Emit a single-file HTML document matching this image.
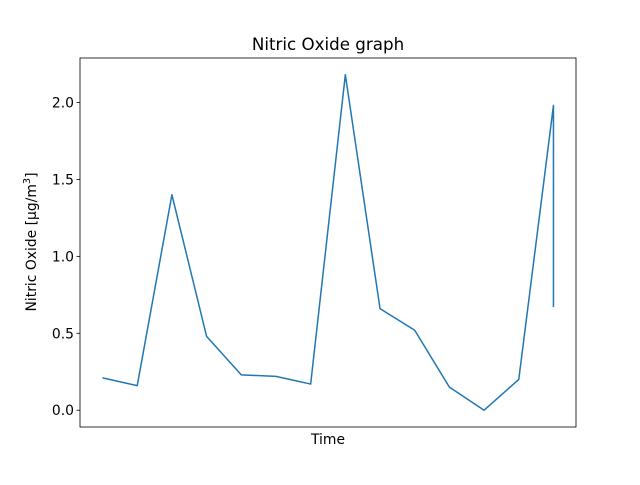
<!DOCTYPE html>
<html><head><meta charset="utf-8"><style>
body{margin:0;background:#fff;}
svg text{font-family:"DejaVu Sans","Liberation Sans",sans-serif;fill:#000;}
</style></head><body>
<svg id="chart" width="640" height="480" xmlns="http://www.w3.org/2000/svg">
<rect width="640" height="480" fill="#fff"/>
<text x="328" y="50" font-size="16.7" text-anchor="middle">Nitric Oxide graph</text>
<text x="328" y="444" font-size="13.9" text-anchor="middle">Time</text>
<text transform="translate(36,242) rotate(-90)" font-size="13.9" text-anchor="middle">Nitric Oxide [μg/m<tspan dy="-6" font-size="9.7">3</tspan><tspan dy="6">]</tspan></text>
<g id="yticks"></g>
<path id="line" fill="none" stroke="#1f77b4" stroke-width="1.5" stroke-linejoin="round"/>
<rect x="80" y="58" width="496" height="369" fill="none" stroke="#000" stroke-width="0.8"/>
</svg>
<script>
const xIndex=[0,1,2,3,4,5,6,7,8,9,10,11,12,13,13];
const values=[0.21,0.16,1.40,0.48,0.23,0.22,0.17,2.18,0.66,0.52,0.15,0.0,0.20,1.98,0.67];
const yTicks=[0.0,0.5,1.0,1.5,2.0];
const yTickLabels=["0.0","0.5","1.0","1.5","2.0"];
const L=80,R=576,T=58,B=427;
const xmin=-0.65,xmax=13.65;
const dmin=Math.min(...values),dmax=Math.max(...values),pad=(dmax-dmin)*0.05;
const ymin=dmin-pad,ymax=dmax+pad;
const xs=v=>L+(v-xmin)/(xmax-xmin)*(R-L);
const ys=v=>B-(v-ymin)/(ymax-ymin)*(B-T);
const ns="http://www.w3.org/2000/svg";
const line=document.getElementById('line');
line.setAttribute('d',values.map((v,i)=>(i?'L':'M')+xs(xIndex[i]).toFixed(2)+','+ys(v).toFixed(2)).join(''));
const g=document.getElementById('yticks');
yTicks.forEach((t,i)=>{
 const y=ys(t);
 const l=document.createElementNS(ns,'line');
 l.setAttribute('x1',L-3.5);l.setAttribute('x2',L);l.setAttribute('y1',y);l.setAttribute('y2',y);
 l.setAttribute('stroke','#000');l.setAttribute('stroke-width','0.8');
 
 
 g.appendChild(l);
 const tx=document.createElementNS(ns,'text');
 tx.setAttribute('x',L-6);tx.setAttribute('y',y+5);tx.setAttribute('font-size','13.9');tx.setAttribute('text-anchor','end');
 tx.textContent=yTickLabels[i];
 
 
 g.appendChild(tx);
});
</script>
</body></html>
